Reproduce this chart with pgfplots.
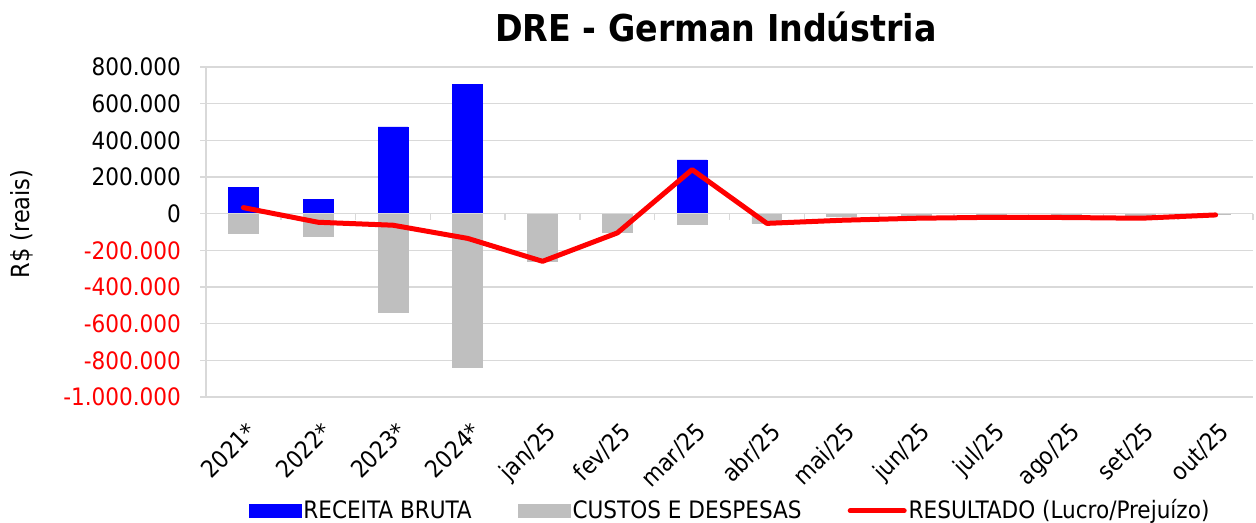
\documentclass[border=0pt]{standalone}
\usepackage{pgfplots}
\pgfplotsset{compat=1.18}
\usepackage{fontspec}
\setmainfont{DejaVu Sans Condensed}
\definecolor{barblue}{RGB}{0,0,255}
\definecolor{bargray}{RGB}{191,191,191}
\definecolor{gridgray}{RGB}{217,217,217}
\definecolor{linered}{RGB}{255,0,0}
\begin{document}
\begin{tikzpicture}
\useasboundingbox (0,0) rectangle (628pt,261.5pt);
\node[font=\bfseries\fontsize{18.5}{20}\selectfont] at (358pt,248pt) {DRE - German Indústria};
\begin{axis}[
    at={(103pt,63pt)}, anchor=south west,
    scale only axis,
    width=523.5pt, height=165pt,
    xmin=-0.5, xmax=13.5,
    ymin=-1000000, ymax=800000,
    scaled y ticks=false,
    axis x line*=bottom, axis y line*=left,
    x axis line style={draw=none},
    y axis line style={draw=gridgray, line width=0.75pt},
    xtick={0,...,13},
    xticklabels={2021*,2022*,2023*,2024*,jan/25,fev/25,mar/25,abr/25,mai/25,jun/25,jul/25,ago/25,set/25,out/25},
    xtick style={draw=none},
    xticklabel style={rotate=45, anchor=north east, font=\fontsize{12}{12}\selectfont, yshift=-3.5pt, xshift=-2pt},
    ytick={-1000000,-800000,-600000,-400000,-200000,0,200000,400000,600000,800000},
    yticklabels={\textcolor{red}{-1.000.000},\textcolor{red}{-800.000},\textcolor{red}{-600.000},\textcolor{red}{-400.000},\textcolor{red}{-200.000},0,200.000,400.000,600.000,800.000},
    yticklabel style={font=\fontsize{12}{12}\selectfont, xshift=-6pt},
    ytick style={draw=gridgray, line width=0.75pt},
    tick align=outside, major tick length=3pt,
    /pgf/number format/assume math mode=true,
    ymajorgrids, grid style={draw=gridgray, line width=0.75pt},
    ylabel={R\$ (reais)},
    ylabel style={at={(axis description cs:-0.176,0.524)}, anchor=center, font=\fontsize{12.5}{13}\selectfont},
    legend columns=3,
    legend style={at={(axis description cs:0.5005,-0.345)}, anchor=center, draw=none,
        font=\fontsize{12}{13}\selectfont,
        /tikz/every even column/.append style={column sep=22pt},
        nodes={inner sep=1pt}},
    clip=false,
]
\addplot[ybar, bar width=0.4, bar shift=0pt, fill=barblue, draw=barblue,
    legend image code/.code={\fill[barblue] (0pt,-3.25pt) rectangle (26pt,3.25pt);}]
    coordinates {(0,143000) (1,76000) (2,473000) (3,706000) (6,293000)};
\addlegendentry{RECEITA BRUTA}
\addplot[ybar, bar width=0.4, bar shift=0pt, fill=bargray, draw=bargray,
    legend image code/.code={\fill[bargray] (0pt,-3.25pt) rectangle (26pt,3.25pt);}]
    coordinates {(0,-110000) (1,-123000) (2,-536000) (3,-841000) (4,-258000) (5,-103000)
      (6,-56000) (7,-53000) (8,-15000) (9,-20000) (10,-18000) (11,-20000) (12,-22000) (13,-6000)};
\addlegendentry{CUSTOS E DESPESAS}
\draw[gridgray, line width=0.75pt] (axis cs:-0.5,0) -- (axis cs:13.5,0);
\pgfplotsinvokeforeach{-0.5,0.5,...,13.5}{
  \draw[gridgray, line width=0.75pt] (axis cs:#1,0) -- ([yshift=-3pt]axis cs:#1,0);
}
\addplot[linered, line width=2.5pt, line join=round, line cap=round, mark=none, sharp plot,
    legend image code/.code={\draw[linered, line width=2.5pt, line cap=round] (0pt,0pt) -- (27pt,0pt);}]
    coordinates {(0,33000) (1,-47000) (2,-63000) (3,-135000) (4,-260000) (5,-105000)
      (6,240000) (7,-53000) (8,-36000) (9,-25000) (10,-20000) (11,-21000) (12,-25000) (13,-7000)};
\addlegendentry{RESULTADO (Lucro/Prejuízo)}
\end{axis}
\end{tikzpicture}
\end{document}
